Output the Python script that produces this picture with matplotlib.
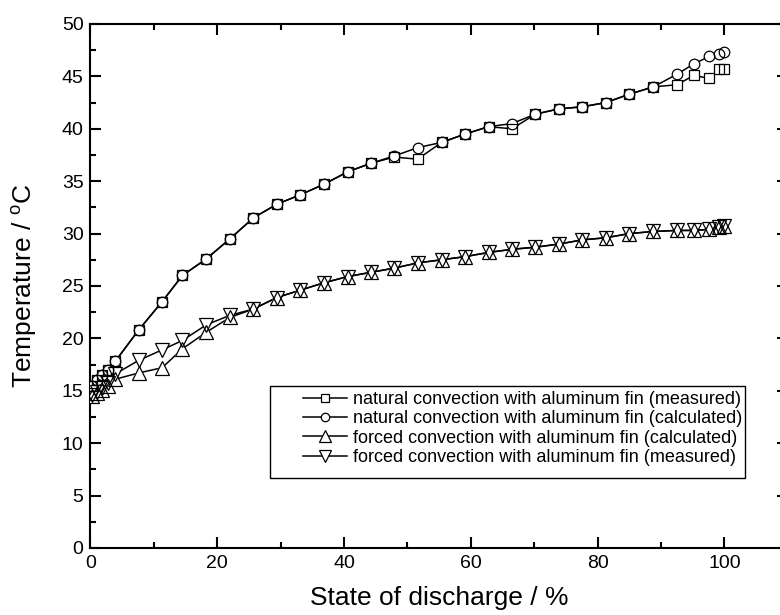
import numpy as np
import matplotlib.pyplot as plt
from matplotlib.lines import Line2D
from matplotlib.patches import Rectangle
from matplotlib.ticker import MultipleLocator

plt.rcParams['font.family'] = ['Liberation Sans', 'DejaVu Sans']

# state of discharge (%) shared by all four series
sod = [0.2, 1.0, 1.8, 2.7, 3.9, 7.6, 11.3, 14.5, 18.3, 22.0, 25.7, 29.4, 33.1,
       36.8, 40.6, 44.2, 47.9, 51.6, 55.4, 59.1, 62.8, 66.5, 70.2, 73.9, 77.6,
       81.3, 85.0, 88.8, 92.5, 95.2, 97.6, 99.1, 100.0]

nat_meas = [15.5, 16.0, 16.5, 17.0, 17.8, 20.8, 23.5, 26.0, 27.6, 29.5, 31.5,
            32.8, 33.7, 34.7, 35.9, 36.7, 37.3, 37.1, 38.7, 39.5, 40.2, 40.0,
            41.4, 41.9, 42.1, 42.5, 43.3, 44.0, 44.2, 45.1, 44.8, 45.7, 45.7]
nat_calc = [15.5, 16.0, 16.5, 17.0, 17.8, 20.8, 23.5, 26.0, 27.6, 29.5, 31.5,
            32.8, 33.7, 34.7, 35.9, 36.7, 37.4, 38.2, 38.7, 39.5, 40.2, 40.5,
            41.4, 41.9, 42.1, 42.5, 43.3, 44.0, 45.2, 46.2, 46.9, 47.1, 47.3]
forc_calc = [14.5, 14.8, 15.1, 15.5, 16.1, 16.7, 17.2, 19.0, 20.6, 22.0, 22.8,
             23.9, 24.6, 25.3, 25.9, 26.3, 26.7, 27.2, 27.5, 27.8, 28.2, 28.5,
             28.7, 29.0, 29.4, 29.6, 30.0, 30.2, 30.3, 30.3, 30.4, 30.6, 30.7]
forc_meas = [14.6, 14.9, 15.3, 15.7, 16.6, 17.9, 18.9, 19.8, 21.3, 22.2, 22.8,
             23.9, 24.6, 25.3, 25.9, 26.3, 26.7, 27.2, 27.5, 27.8, 28.2, 28.5,
             28.7, 29.0, 29.4, 29.6, 30.0, 30.2, 30.3, 30.3, 30.4, 30.6, 30.7]

labels = ['natural convection with aluminum fin (measured)',
          'natural convection with aluminum fin (calculated)',
          'forced convection with aluminum fin (calculated)',
          'forced convection with aluminum fin (measured)']

series = [(nat_meas, 's', 6.8), (nat_calc, 'o', 7.6),
          (forc_calc, '^', 10), (forc_meas, 'v', 10)]

fig = plt.figure(figsize=(7.8, 6.15), dpi=100)
ax = fig.add_axes([0.116, 0.109, 0.894, 0.852])

# lines first, then white marker bodies, then open marker outlines
for y, m, ms in series:
    ax.plot(sod, y, '-', color='k', lw=1.1, zorder=2)
for y, m, ms in series:
    ax.plot(sod, y, ls='none', marker=m, ms=ms, mfc='white', mew=0, zorder=3)
for y, m, ms in series:
    ax.plot(sod, y, ls='none', marker=m, ms=ms, mfc='none', mec='k', mew=0.9, zorder=4)

ax.set_xlim(0, 110)
ax.set_ylim(0, 50)
ax.xaxis.set_major_locator(MultipleLocator(20))
ax.xaxis.set_minor_locator(MultipleLocator(10))
ax.yaxis.set_major_locator(MultipleLocator(5))
ax.yaxis.set_minor_locator(MultipleLocator(2.5))
ax.tick_params(which='both', direction='in', top=True, right=True, width=1.5)
ax.tick_params(which='major', length=8, labelsize=14, pad=5)
ax.tick_params(which='minor', length=4)
for s in ax.spines.values():
    s.set_linewidth(1.5)

ax.set_xlabel('State of discharge / %', fontsize=19, va='center')
ax.set_ylabel('Temperature / $\\mathregular{^{o}}$C', fontsize=19, va='center')
ax.xaxis.set_label_coords(0.5, -0.0954)
ax.yaxis.set_label_coords(-0.094, 0.5)

# legend box drawn separately (wide left margin as in the source)
box = Rectangle((270 / 780, 1 - 478 / 615), 475 / 780, 92 / 615,
                transform=fig.transFigure, fc='white', ec='k', lw=1.0,
                zorder=5, clip_on=False)
ax.add_patch(box)
handles = [Line2D([], [], color='k', lw=1.1, marker=m, ms=ms * 0.8, mfc='white',
                  mec='k', mew=0.9) for _, m, ms in series]
leg = ax.legend(handles, labels, loc='upper left',
                bbox_to_anchor=(303 / 780, 1 - 391 / 615),
                bbox_transform=fig.transFigure, borderaxespad=0, borderpad=0,
                fontsize=13, frameon=False, handlelength=2.45,
                handletextpad=0.33, labelspacing=0.13)
leg.set_zorder(6)

fig.savefig('out.png', dpi=100)
